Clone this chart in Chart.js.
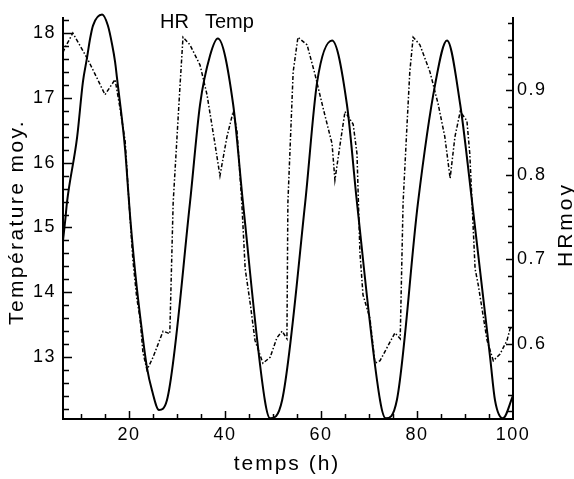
<!DOCTYPE html>
<html>
<head>
<meta charset="utf-8">
<script src="https://cdn.jsdelivr.net/npm/chart.js@4.4.0/dist/chart.umd.min.js"></script>
<style>
html, body { margin: 0; padding: 0; background: #fff; }
</style>
</head>
<body>
<canvas id="myChart" width="574" height="479"></canvas>
<script>
// temperature (solid line)
const tempHours = [6.25, 6.7, 7.1, 9.2, 10.4, 11.25, 11.9, 12.5, 14.4, 15.6, 16.5, 17.1, 17.5, 19.2, 19.8, 20.2, 21.3, 22.7, 23.75, 24.8, 26.25, 27.9,
	32.7, 34.8, 36.9, 38.5, 41.7, 43.75, 48.3, 49.4, 51.9,
	56.7, 59.2, 62.3, 65.4, 67.5, 72.3, 73.5, 75.8,
	80.2, 83.75, 86.25, 89.0, 91.5, 95.25, 96.25, 97.9, 100];
const tempValues = [14.8, 15.1, 15.4, 16.4, 17.25, 17.62, 17.92, 18.12, 18.29, 18.12, 17.82, 17.56, 17.31, 16.2, 15.6, 15.2, 14.3, 13.4, 12.83, 12.48, 12.18, 12.33,
	15.38, 16.9, 17.66, 17.92, 16.9, 15.38, 12.33, 12.05, 12.33,
	15.38, 17.25, 17.89, 16.9, 15.38, 12.33, 12.05, 12.33,
	15.38, 17.2, 17.89, 16.9, 15.38, 12.98, 12.33, 12.05, 12.4];

// relative humidity (dash-dot line)
const hrHours = [6.25, 6.7, 8.3, 11.3, 13.3, 15.0, 17.1, 18.1, 19.2, 19.8, 20.8, 21.6, 22.3, 22.9, 23.75, 25.0, 27.1, 28.5, 29.2, 30.6, 31.25,
	32.7, 34.8, 36.25, 37.9, 38.95, 40.4, 41.7, 42.5, 43.5, 44.2, 45.2, 46.25, 47.9, 49.4, 50.8, 51.9, 52.9, 53.1, 54.2, 55.2,
	57.1, 58.75, 60.4, 62.3, 62.9, 64.0, 65.0, 66.7, 67.5, 68.1, 68.75, 70.2, 71.25, 72.3, 75.4, 76.5, 77.1, 77.9, 78.5, 79.2,
	80.6, 82.7, 84.4, 85.8, 86.9, 87.9, 89.0, 90.4, 91.0, 92.1, 92.75, 94.6, 95.9, 97.3, 98.75, 99.4, 100];
const hrValues = [0.945, 0.951, 0.968, 0.938, 0.915, 0.895, 0.913, 0.880, 0.840, 0.785, 0.700, 0.655, 0.630, 0.590, 0.569, 0.584, 0.615, 0.612, 0.767, 0.903, 0.963,
	0.954, 0.930, 0.895, 0.837, 0.799, 0.845, 0.875, 0.852, 0.767, 0.689, 0.650, 0.604, 0.577, 0.584, 0.607, 0.615, 0.606, 0.767, 0.922, 0.963,
	0.954, 0.919, 0.880, 0.837, 0.794, 0.837, 0.875, 0.860, 0.825, 0.709, 0.658, 0.630, 0.577, 0.580, 0.613, 0.606, 0.767, 0.857, 0.922, 0.963,
	0.954, 0.922, 0.884, 0.845, 0.796, 0.845, 0.875, 0.864, 0.825, 0.689, 0.670, 0.604, 0.580, 0.588, 0.604, 0.618, 0.62];

// tick labels
const xTicks = [20, 40, 60, 80, 100];
const tempTicks = [13, 14, 15, 16, 17, 18];
const hrTicks = [0.6, 0.7, 0.8, 0.9];

const fontFamily = 'Arial, "Liberation Sans", sans-serif';

// tick marks point inward, minor and major
const tickMarks = {
	id: 'tickMarks',
	beforeDraw(chart) {
		chart.ctx.letterSpacing = '1.5px';
	},
	afterDraw(chart) {
		const ctx = chart.ctx;
		const area = chart.chartArea;
		const x = chart.scales.x, yT = chart.scales.y, yH = chart.scales.y1;
		ctx.save();
		ctx.strokeStyle = '#000';
		ctx.lineWidth = 1.5;
		ctx.beginPath();
		for (let v = 10; v < 100; v += 5) {
			const px = Math.round(x.getPixelForValue(v)) + 0.5;
			const len = v % 20 === 0 ? 8 : 5;
			ctx.moveTo(px, area.bottom);
			ctx.lineTo(px, area.bottom - len);
		}
		for (let k = 61; k <= 91; k++) {
			const py = Math.round(yT.getPixelForValue(k / 5)) + 0.5;
			const len = k % 5 === 0 ? 9 : 6;
			ctx.moveTo(area.left, py);
			ctx.lineTo(area.left + len, py);
		}
		for (let k = 26; k <= 49; k++) {
			const py = Math.round(yH.getPixelForValue(k / 50)) + 0.5;
			const len = k % 5 === 0 ? 7 : 5;
			ctx.moveTo(area.right, py);
			ctx.lineTo(area.right - len, py);
		}
		ctx.stroke();

		// legend words and axis titles
		ctx.fillStyle = '#000';
		ctx.textBaseline = 'alphabetic';
		ctx.textAlign = 'left';
		ctx.letterSpacing = '0px';
		ctx.font = '20px ' + fontFamily;
		ctx.fillText('HR', 160, 28);
		ctx.fillText('Temp', 205, 28);

		ctx.font = '21px ' + fontFamily;
		ctx.letterSpacing = '2px';
		ctx.textAlign = 'center';
		ctx.fillText('temps (h)', 287, 470);

		ctx.textAlign = 'left';
		ctx.letterSpacing = '2.4px';
		ctx.save();
		ctx.translate(23, 325);
		ctx.rotate(-Math.PI / 2);
		ctx.fillText('Température moy.', 0, 0);
		ctx.restore();

		ctx.letterSpacing = '3px';
		ctx.save();
		ctx.translate(572, 267);
		ctx.rotate(-Math.PI / 2);
		ctx.fillText('HRmoy', 0, 0);
		ctx.restore();
		ctx.restore();
	}
};

const tickFont = {family: fontFamily, size: 18};

const myChart = new Chart(document.getElementById('myChart'), {
	type: 'line',
	data: {
		datasets: [{
			label: 'Temp',
			data: tempHours.map((h, i) => ({x: h, y: tempValues[i]})),
			yAxisID: 'y',
			borderColor: '#000',
			borderWidth: 2,
			pointRadius: 0,
			cubicInterpolationMode: 'monotone',
			clip: false
		}, {
			label: 'HR',
			data: hrHours.map((h, i) => ({x: h, y: hrValues[i]})),
			yAxisID: 'y1',
			borderColor: '#000',
			borderWidth: 1.5,
			borderDash: [4, 2, 1.5, 2],
			pointRadius: 0,
			tension: 0
		}]
	},
	options: {
		responsive: false,
		animation: false,
		layout: {padding: {top: 12, left: 0, right: 0, bottom: 0}},
		plugins: {legend: {display: false}, tooltip: {enabled: false}},
		scales: {
			x: {
				type: 'linear',
				min: 6.25,
				max: 100,
				grid: {display: false, drawTicks: false},
				border: {display: true, color: '#000', width: 2},
				ticks: {color: '#000', font: tickFont, padding: 5, maxRotation: 0},
				afterBuildTicks: axis => { axis.ticks = xTicks.map(v => ({value: v})); },
				afterFit: axis => { axis.height = 60; }
			},
			y: {
				type: 'linear',
				position: 'left',
				min: 12.04,
				max: 18.24,
				grid: {display: false, drawTicks: false},
				border: {display: true, color: '#000', width: 2},
				ticks: {color: '#000', font: tickFont, padding: 7},
				afterBuildTicks: axis => { axis.ticks = tempTicks.map(v => ({value: v})); },
				afterFit: axis => { axis.width = 63; }
			},
			y1: {
				type: 'linear',
				position: 'right',
				min: 0.511,
				max: 0.986,
				grid: {display: false, drawTicks: false},
				border: {display: true, color: '#000', width: 2},
				ticks: {color: '#000', font: tickFont, padding: 4, callback: v => v.toFixed(1)},
				afterBuildTicks: axis => { axis.ticks = hrTicks.map(v => ({value: v})); },
				afterFit: axis => { axis.width = 61; }
			}
		}
	},
	plugins: [tickMarks]
});
</script>
</body>
</html>
